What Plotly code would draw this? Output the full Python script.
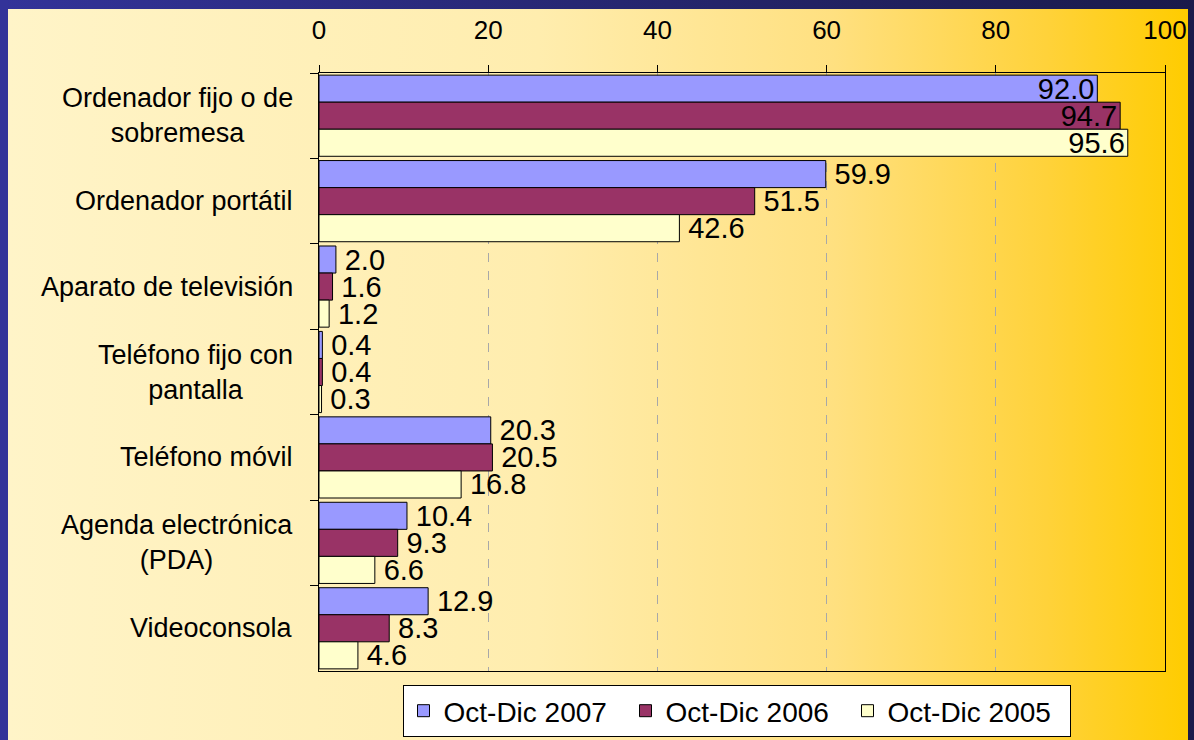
import base64
import plotly.graph_objects as go

categories = [
    "Ordenador fijo o de<br>sobremesa",
    "Ordenador portátil",
    "Aparato de televisión",
    "Teléfono fijo con<br>pantalla",
    "Teléfono móvil",
    "Agenda electrónica<br>(PDA)",
    "Videoconsola",
]
series_names = ["Oct-Dic 2007", "Oct-Dic 2006", "Oct-Dic 2005"]
values_2007 = [92.0, 59.9, 2.0, 0.4, 20.3, 10.4, 12.9]
values_2006 = [94.7, 51.5, 1.6, 0.4, 20.5, 9.3, 8.3]
values_2005 = [95.6, 42.6, 1.2, 0.3, 16.8, 6.6, 4.6]
x_ticks = [0, 20, 40, 60, 80, 100]

colors = ["#9999FF", "#993366", "#FFFFCC"]
FONT = "Liberation Sans, Arial, sans-serif"

W, H = 1194, 740
L, R, T, B = 319, 29, 73, 69
pw, ph = W - L - R, H - T - B

# slide background: navy frame + yellow-to-gold gradient (svg as data uri)
svg = f"""<svg xmlns='http://www.w3.org/2000/svg' width='{W}' height='{H}' viewBox='0 0 {W} {H}' preserveAspectRatio='none'>
<defs>
<linearGradient id='g' x1='0' y1='0' x2='1' y2='0'>
<stop offset='0' stop-color='#FFF4C8'/>
<stop offset='0.45' stop-color='#FFEDAE'/>
<stop offset='0.7' stop-color='#FFE080'/>
<stop offset='0.88' stop-color='#FFD23A'/>
<stop offset='1' stop-color='#FFCC00'/>
</linearGradient>
<linearGradient id='f' x1='0' y1='0' x2='1' y2='0'>
<stop offset='0' stop-color='#333399'/>
<stop offset='1' stop-color='#1A1A4A'/>
</linearGradient>
</defs>
<rect x='0' y='0' width='{W}' height='{H}' fill='url(#f)'/>
<rect x='0' y='0' width='8' height='{H}' fill='#333399'/>
<rect x='8' y='9' width='{W - 14}' height='{H - 9}' fill='url(#g)'/>
</svg>"""
bg_src = "data:image/svg+xml;base64," + base64.b64encode(svg.encode()).decode()

fig = go.Figure()
for name, vals, col in zip(series_names, [values_2007, values_2006, values_2005], colors):
    inside = [v > 90 for v in vals]
    fig.add_trace(go.Bar(
        y=categories, x=vals, name=name, orientation="h",
        marker=dict(color=col, line=dict(color="black", width=1)),
        text=vals,
        texttemplate=["%{x:.1f}" if i else "\u2009%{x:.1f}" for i in inside],
        textposition=["inside" if i else "outside" for i in inside],
        insidetextanchor="end", constraintext="none", cliponaxis=False,
        textfont=dict(family=FONT, size=29, color="black"),
        insidetextfont=dict(family=FONT, size=29, color="black"),
        outsidetextfont=dict(family=FONT, size=29, color="black"),
        hoverinfo="x+y+name",
    ))

# category labels, centred multi-line like the original
for c in categories:
    fig.add_annotation(x=0, xref="paper", y=c, yref="y", text=c, showarrow=False,
                       xanchor="right", xshift=-24, align="center",
                       font=dict(family=FONT, size=27, color="black"))

fig.update_layout(
    width=W, height=H, autosize=False,
    margin=dict(l=L, r=R, t=T, b=B, autoexpand=False),
    paper_bgcolor="#FFE8A0", plot_bgcolor="#FFFFD6",
    barmode="group", bargap=0.05, bargroupgap=0,
    font=dict(family=FONT, size=26, color="black"),
    images=[dict(source=bg_src, xref="paper", yref="paper",
                 x=-L / pw, y=1 + T / ph, sizex=W / pw, sizey=H / ph,
                 xanchor="left", yanchor="top", sizing="stretch", layer="below")],
    legend=dict(orientation="h", xref="container", x=736.5 / W, xanchor="center",
                yref="container", y=(H - 685) / H, yanchor="top",
                bgcolor="white", bordercolor="black", borderwidth=1,
                font=dict(family=FONT, size=28),
                entrywidth=177, entrywidthmode="pixels"),
    showlegend=True,
)
fig.update_xaxes(side="top", range=[0, 100], tickvals=x_ticks, ticks="outside",
                 ticklen=7, tickcolor="black", showline=True, linecolor="black",
                 linewidth=1, mirror=True, showgrid=True, gridcolor="#A8A8A8",
                 griddash="dash", zeroline=False, ticklabelstandoff=16,
                 automargin=False,
                 tickfont=dict(family=FONT, size=26, color="black"))
fig.update_yaxes(autorange="reversed", ticks="outside", tickson="boundaries",
                 ticklen=8, tickcolor="black", showline=True, linecolor="black",
                 linewidth=1, mirror=True, showgrid=False, showticklabels=False,
                 automargin=False)

fig.write_html(
    "out.html",
    config={"responsive": False, "displayModeBar": False},
    post_script="document.body.style.margin='0';document.body.style.overflow='hidden';",
)
